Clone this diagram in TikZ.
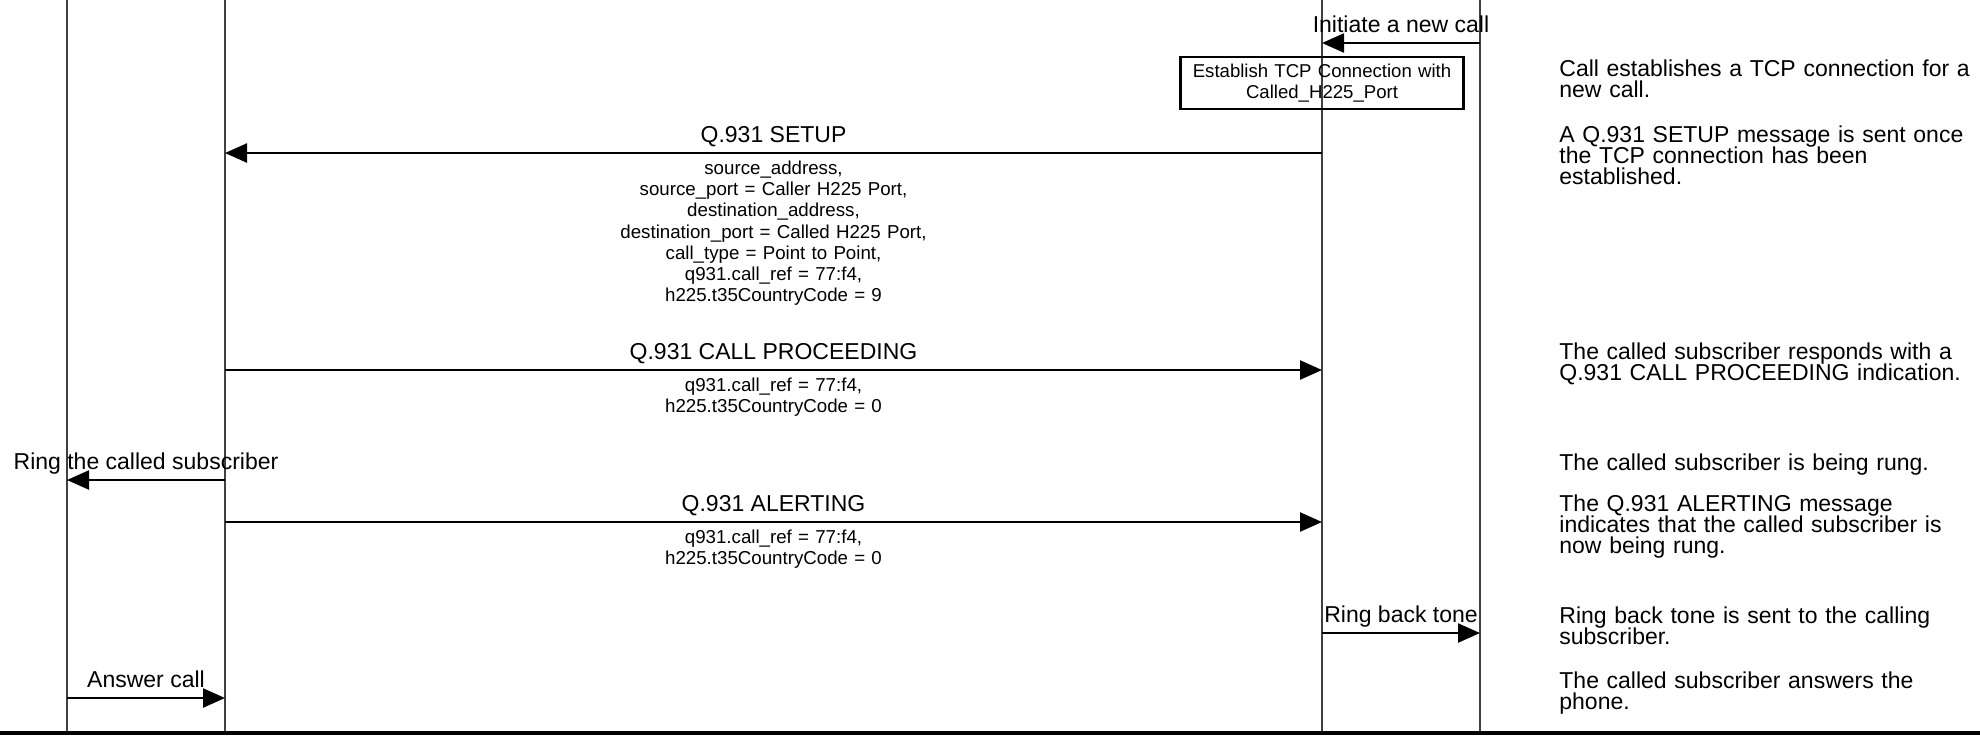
\documentclass[tikz,border=0pt]{standalone}
\usepackage{fontspec}
\setmainfont{Liberation Sans}
\usetikzlibrary{arrows.meta,positioning}

\newcommand{\lblfont}{\fontsize{11.5}{13}\selectfont}
\newcommand{\parfont}{\fontsize{9.35}{10.6}\selectfont\lineskiplimit=-20pt}
\newcommand{\boxfont}{\fontsize{9.3}{10.5}\selectfont\lineskiplimit=-20pt}
\newcommand{\notefont}{\fontsize{11.5}{10.5}\selectfont\lineskiplimit=-20pt}

\tikzset{
  lifeline/.style={draw=black!75, line width=0.55pt},
  msg/.style={line width=1.2pt, -{Triangle[length=11pt,width=9.5pt]}},
  lbl/.style={anchor=base, yshift=5.25pt, inner sep=0pt, font=\lblfont},
  params/.style={anchor=base, yshift=-10.75pt, inner sep=0pt, text width=200pt, align=center, font=\parfont},
  note/.style={anchor=base west, inner sep=0pt, text width=215pt, align=left, font=\notefont},
  action/.style={draw, line width=1.3pt, minimum width=141.5pt, minimum height=26pt, inner sep=0pt, text width=138pt, align=center, font=\boxfont}
}

\begin{document}
\begin{tikzpicture}[x=0.5pt, y=-0.5pt]
  \useasboundingbox (0,0) rectangle (1980,736);

  % Lifelines
  \foreach \name/\x in {subB/67, termB/225, termA/1322, subA/1480} {
    \coordinate (\name) at (\x,0);
    \coordinate (\name-end) at (\x,733);
    \draw[lifeline] (\name) -- (\name-end);
  }
  \coordinate (frameL) at (0,733);
  \coordinate (frameR) at (1980,733);
  \draw[line width=1.6pt] (frameL) -- (frameR);

  % Rows
  \coordinate (rInit) at (0,43);
  \coordinate (rTcp) at (0,83);
  \coordinate (rSetup) at (0,153);
  \coordinate (rProc) at (0,370);
  \coordinate (rRing) at (0,480);
  \coordinate (rAlert) at (0,522);
  \coordinate (rBack) at (0,633);
  \coordinate (rAnswer) at (0,698);

  % Messages
  \draw[msg] (subA |- rInit) -- node[lbl] (initL) {Initiate a new call} (termA |- rInit);
  \node[action] (tcpbox) at (termA |- rTcp) {Establish TCP Connection with\\Called\_H225\_Port};

  \draw[msg] (termA |- rSetup) -- node[lbl] (setupL) {Q.931 SETUP}
    node[params] (setupP) {source\_address,\\source\_port = Caller H225 Port,\\destination\_address,\\destination\_port = Called H225 Port,\\call\_type = Point to Point,\\q931.call\_ref = 77:f4,\\h225.t35CountryCode = 9} (termB |- rSetup);

  \draw[msg] (termB |- rProc) -- node[lbl] (procL) {Q.931 CALL PROCEEDING}
    node[params] (procP) {q931.call\_ref = 77:f4,\\h225.t35CountryCode = 0} (termA |- rProc);

  \draw[msg] (termB |- rRing) -- node[lbl] (ringL) {Ring the called subscriber} (subB |- rRing);

  \draw[msg] (termB |- rAlert) -- node[lbl] (alertL) {Q.931 ALERTING}
    node[params] (alertP) {q931.call\_ref = 77:f4,\\h225.t35CountryCode = 0} (termA |- rAlert);

  \draw[msg] (termA |- rBack) -- node[lbl] (backL) {Ring back tone} (subA |- rBack);

  \draw[msg] (subB |- rAnswer) -- node[lbl] (answerL) {Answer call} (termB |- rAnswer);

  % Notes
  \node[note] (n1) at (1559,76) {Call establishes a TCP connection for a\\new call.};
  \node[note] (n2) at (1559,142) {A Q.931 SETUP message is sent once\\the TCP connection has been\\established.};
  \node[note] (n3) at (1559,359) {The called subscriber responds with a\\Q.931 CALL PROCEEDING indication.};
  \node[note] (n4) at (1559,470) {The called subscriber is being rung.};
  \node[note] (n5) at (1559,511) {The Q.931 ALERTING message\\indicates that the called subscriber is\\now being rung.};
  \node[note] (n6) at (1559,623) {Ring back tone is sent to the calling\\subscriber.};
  \node[note] (n7) at (1559,688) {The called subscriber answers the\\phone.};
\end{tikzpicture}
\end{document}
